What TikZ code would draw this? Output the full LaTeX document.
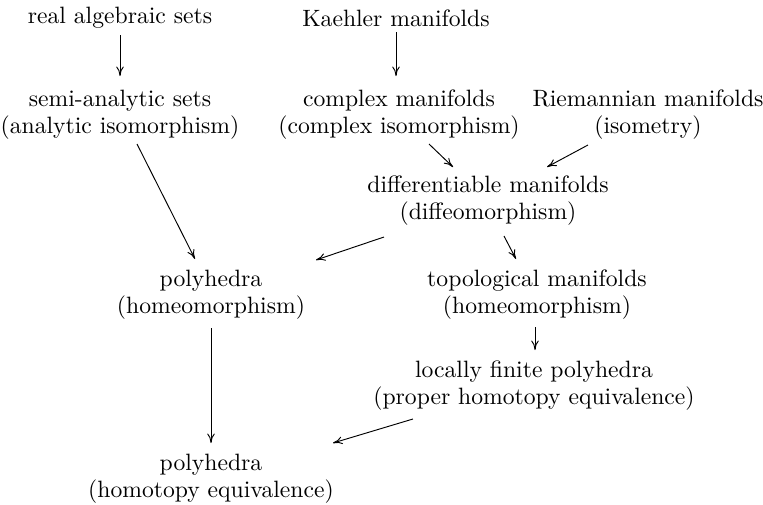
\documentclass[tikz,border=0pt]{standalone}
\usetikzlibrary{arrows.meta}
\begin{document}
\begin{tikzpicture}[x=0.423pt,y=-0.423pt,
  lbl/.style={align=center,inner sep=0pt,font=\fontsize{10}{11.5}\selectfont},
  arr/.style={-{Computer Modern Rightarrow[length=4pt,width=3.2pt]},line width=0.4pt}]
\useasboundingbox (0,0) rectangle (763,505);
\node[lbl] (real) at (120,18) {real algebraic sets};
\node[lbl] (kaehler) at (396,18) {Kaehler manifolds};
\node[lbl] (semi) at (120,115) {semi-analytic sets\\(analytic isomorphism)};
\node[lbl] (complex) at (399,115) {complex manifolds\\(complex isomorphism)};
\node[lbl] (riem) at (648,115) {Riemannian manifolds\\(isometry)};
\node[lbl] (diff) at (488,201) {differentiable manifolds\\(diffeomorphism)};
\node[lbl] (poly) at (211,295) {polyhedra\\(homeomorphism)};
\node[lbl] (top) at (537,295) {topological manifolds\\(homeomorphism)};
\node[lbl] (lfp) at (534,386) {locally finite polyhedra\\(proper homotopy equivalence)};
\node[lbl] (polyh) at (211,479) {polyhedra\\(homotopy equivalence)};
\draw[arr] ([shift={(0,17)}]real.center) -- ([shift={(0,-39)}]semi.center);
\draw[arr] ([shift={(0,14)}]kaehler.center) -- ([shift={(-3,-39)}]complex.center);
\draw[arr] ([shift={(30,29)}]complex.center) -- ([shift={(-35,-34)}]diff.center);
\draw[arr] ([shift={(-60,30)}]riem.center) -- ([shift={(59,-34)}]diff.center);
\draw[arr] ([shift={(17,29)}]semi.center) -- ([shift={(-16,-36)}]poly.center);
\draw[arr] ([shift={(-104,36)}]diff.center) -- ([shift={(105,-35)}]poly.center);
\draw[arr] ([shift={(16,35)}]diff.center) -- ([shift={(-21,-36)}]top.center);
\draw[arr] ([shift={(0,33)}]poly.center) -- ([shift={(0,-36)}]polyh.center);
\draw[arr] ([shift={(-2,32)}]top.center) -- ([shift={(1,-36)}]lfp.center);
\draw[arr] ([shift={(-121,33)}]lfp.center) -- ([shift={(122,-36)}]polyh.center);
\end{tikzpicture}
\end{document}
